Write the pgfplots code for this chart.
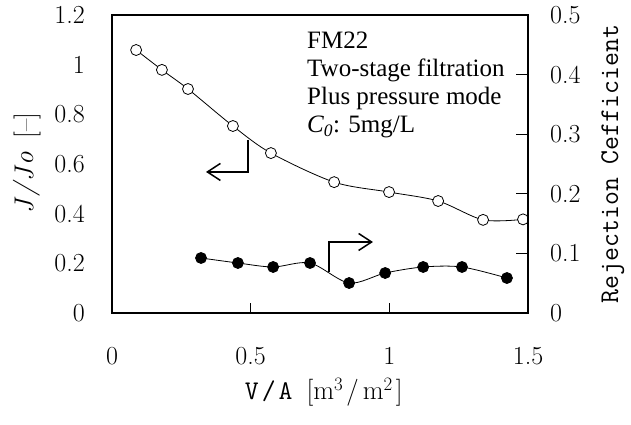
\documentclass[border=0pt]{standalone}
\usepackage{fontspec}
\usepackage{pgfplots}
\pgfplotsset{compat=1.18}
\usetikzlibrary{arrows.meta}
\newfontfamily\tnr{Liberation Serif}

\begin{document}
\begin{tikzpicture}[x=1pt,y=1pt]
\useasboundingbox (-112pt,-112pt) rectangle (519pt,313pt);
\begin{axis}[
  scale only axis, width=416pt, height=298pt,
  xmin=0, xmax=1.5, ymin=0, ymax=1.2,
  xtick={0,0.5,1,1.5}, ytick={0,0.2,0.4,0.6,0.8,1,1.2},
  xtick pos=bottom, ytick pos=left, tick align=inside,
  major tick length=10pt,
  ytick style={draw=none},
  tick style={line width=1pt, black},
  axis line style={line width=1.2pt},
  /pgf/number format/assume math mode=true,
  ticklabel style={font=\fontsize{26}{26}\selectfont, inner sep=0pt},
  xticklabel style={anchor=north, yshift=-34pt},
  yticklabel style={anchor=east, inner xsep=27pt},
  every axis x label/.style={at={(axis description cs:0.509,-0.265)}, anchor=center, inner sep=0pt},
  every axis y label/.style={at={(axis description cs:-0.204,0.503)}, anchor=center, rotate=90, inner sep=0pt},
  label style={font=\fontsize{27}{27}\selectfont},
  xlabel={\texttt{V\kern3pt/\kern3pt A}\kern14pt[m\textsuperscript{3}\kern3pt/\kern4pt m\textsuperscript{2}\kern3pt]},
  ylabel={{\itshape J\kern3pt/\kern2pt J\kern2pt o}\kern13pt[--]},
  clip=false,
]
\addplot[black, line width=0.8pt, smooth, mark=*, mark size=5.5pt,
  mark options={fill=white, line width=0.8pt}] coordinates {
  (0.087,1.059) (0.180,0.979) (0.274,0.902) (0.436,0.753) (0.573,0.644)
  (0.801,0.527) (0.999,0.487) (1.176,0.451) (1.338,0.375) (1.482,0.377)
};
\draw[line width=1.5pt, -{Straight Barb[length=13pt,width=17pt,line width=1.5pt]}]
  (axis cs:0.490,0.697) -- (axis cs:0.490,0.568) -- (axis cs:0.339,0.568);
\draw[line width=1.5pt, -{Straight Barb[length=13pt,width=17pt,line width=1.5pt]}]
  (axis cs:0.783,0.165) -- (axis cs:0.783,0.286) -- (axis cs:0.941,0.286);
\node[anchor=base west, inner sep=0pt, font=\tnr\fontsize{25}{25}\selectfont] at (axis cs:0.703,1.067) {FM22};
\node[anchor=base west, inner sep=0pt, font=\tnr\fontsize{25}{25}\selectfont] at (axis cs:0.703,0.952) {Two-stage filtration};
\node[anchor=base west, inner sep=0pt, font=\tnr\fontsize{25}{25}\selectfont] at (axis cs:0.703,0.838) {Plus pressure mode};
\node[anchor=base west, inner sep=0pt, font=\tnr\fontsize{25}{25}\selectfont] at (axis cs:0.703,0.725) {\itshape C\textsubscript{0}\upshape: 5mg/L};
\end{axis}
\begin{axis}[
  scale only axis, width=416pt, height=298pt,
  xmin=0, xmax=1.5, ymin=0, ymax=0.5,
  axis x line=none, axis y line*=right,
  ytick={0,0.1,0.2,0.3,0.4,0.5},
  tick align=inside, major tick length=12pt,
  tick style={line width=1pt, black},
  axis line style={line width=1.2pt},
  /pgf/number format/assume math mode=true,
  ticklabel style={font=\fontsize{26}{26}\selectfont, inner sep=0pt},
  yticklabel style={anchor=west, inner xsep=22pt},
  every axis y label/.style={at={(axis description cs:1.204,0.5)}, anchor=center, rotate=90, inner sep=0pt},
  label style={font=\fontsize{27}{27}\selectfont},
  ylabel={\texttt{Rejection Cefficient}},
  clip=false,
]
\addplot[black, line width=0.8pt, smooth, mark=*, mark size=5.5pt,
  mark options={fill=black}] coordinates {
  (0.321,0.0923) (0.454,0.0839) (0.581,0.0772) (0.714,0.0839) (0.855,0.0503)
  (0.985,0.0671) (1.122,0.0772) (1.262,0.0772) (1.424,0.0587)
};
\end{axis}
\end{tikzpicture}
\end{document}
